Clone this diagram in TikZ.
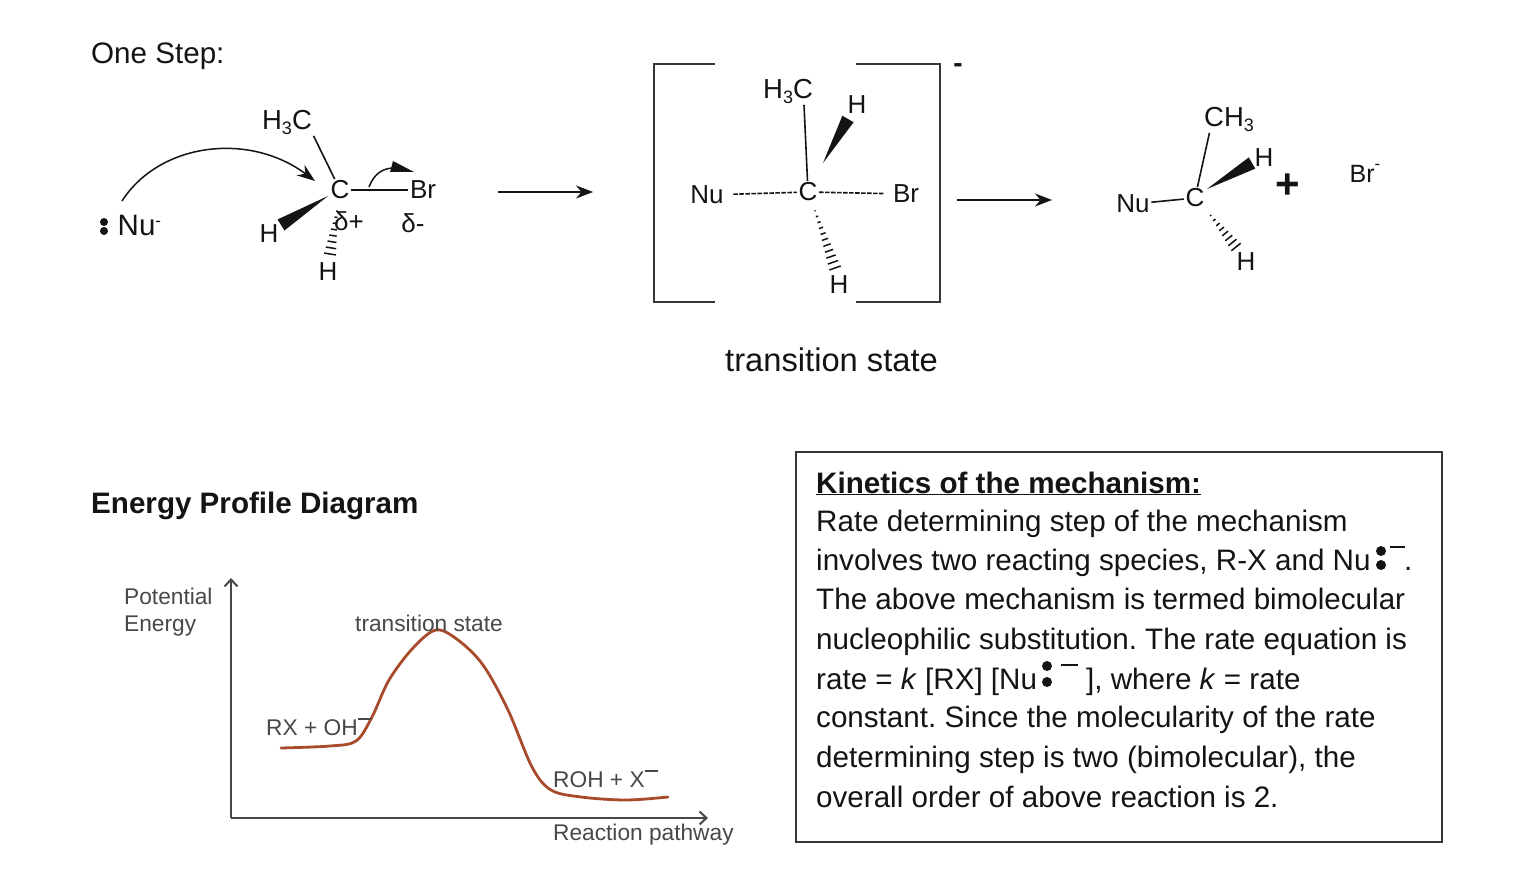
\documentclass[tikz,border=0pt]{standalone}
\usepackage{fontspec}
\setmainfont{Liberation Sans}
\usetikzlibrary{arrows.meta,calc}
\definecolor{ink}{HTML}{141414}
\definecolor{graph}{HTML}{484848}
\definecolor{curvec}{HTML}{A84B2C}
\newcommand{\fs}[1]{\fontsize{#1}{#1}\selectfont}
\newcommand{\subs}[1]{\raisebox{-5pt}{\fs{18}#1}}
\newcommand{\sups}[1]{\raisebox{9pt}{\fs{17}#1}}
% solid wedge from narrow end a to wide end b, half width w (pt)
\newcommand{\solidwedge}[3]{\fill[ink] (#1) -- ($(#2)!#3pt!90:(#1)$) -- ($(#2)!#3pt!-90:(#1)$) -- cycle;}
% hashed wedge from narrow end a to wide end b, half width w (pt), n strokes
\newcommand{\hashbond}[4]{\foreach \i in {1,...,#4}{%
  \pgfmathsetmacro{\t}{\i/#4}\pgfmathsetmacro{\hw}{#3*\t}%
  \coordinate (hp) at ($(#1)!\t!(#2)$);
  \draw[ink,line width=1.5pt] ($(hp)!\hw pt!90:(#1)$) -- ($(hp)!\hw pt!-90:(#1)$);}}
\tikzset{
  atom/.style={inner sep=1.5pt,text=ink,font=\fs{26}},
  groupl/.style={inner sep=1.5pt,text=ink,font=\fs{27.5}},
  bond/.style={draw=ink,line width=1.6pt},
  dbond/.style={draw=ink,line width=1.6pt,dash pattern=on 4.5pt off 1.5pt},
  rxn/.style={draw=ink,line width=1.7pt,-{Stealth[length=17pt,width=13pt]}},
  txt/.style={anchor=base west,inner sep=0pt,text=ink,font=\fs{29.6}},
  gtxt/.style={anchor=base west,inner sep=0pt,text=graph,font=\fs{22.7}},
  axisl/.style={draw=graph,line width=2pt},
  bracketl/.style={draw=ink!85,line width=2.2pt},
  lonepair/.style={fill=ink,circle,inner sep=0pt,minimum size=10pt}
}
\begin{document}
\begin{tikzpicture}[x=1pt,y=-1pt]
\frenchspacing
\useasboundingbox[fill=white] (0,0) rectangle (1528,890);
% --- headline
\node[txt] (onestep) at (91,64) {One Step:};
% --- reactant
\node[atom] (cA) at (340,190) {C};
\node[groupl] (chA) at (287,122) {H\subs{3}C};
\node[atom] (brA) at (423,190) {Br};
\node[atom] (hA1) at (269,234) {H};
\node[atom] (hA2) at (328,272) {H};
\node[atom,font=\fs{29.5},anchor=base west] (nuA) at (116,236) {Nu\sups{-}};
\node[lonepair,minimum size=8pt] (lpA1) at (104,222) {};
\node[lonepair,minimum size=8pt] (lpA2) at (104,231) {};
\node[atom] (dpA) at (349,221) {δ+};
\node[atom] (dmA) at (413,223) {δ-};
\draw[bond] (chA.south east) -- (cA);
\draw[bond] (cA) -- (brA);
\coordinate (wA1) at (328,196); \coordinate (wA2) at (281,225);
\solidwedge{wA1}{wA2}{6.5}
\coordinate (hsA1) at (338,205); \coordinate (hsA2) at (330,254);
\hashbond{hsA1}{hsA2}{6}{8}
\coordinate (attackS) at (122,201); \coordinate (attackE) at (315,181);
\draw[draw=ink,line width=1.5pt,-{Stealth[length=18pt,width=13pt]}] (attackS) .. controls (160,142) and (250,132) .. (attackE);
\coordinate (leaveS) at (369,187); \coordinate (leaveE) at (414,172);
\draw[draw=ink,line width=1.5pt] (leaveS) .. controls (374,174) and (382,169) .. (392,168);
\fill[ink] (leaveE) -- (393,161) -- (390,172) -- cycle;
% --- arrows
\coordinate (arr1S) at (498,192); \coordinate (arr1E) at (593,192);
\coordinate (arr2S) at (957,200); \coordinate (arr2E) at (1052,200);
\draw[rxn] (arr1S) -- (arr1E);
\draw[rxn] (arr2S) -- (arr2E);
% --- transition state
\draw[bracketl] (715,64) -- (654,64) -- (654,302) -- (715,302);
\draw[bracketl] (856,64) -- (940,64) -- (940,302) -- (856,302);
\node[atom,font=\bfseries\fs{28}] (tsminus) at (958,68) {-};
\node[atom] (cB) at (808,192) {C};
\node[groupl] (chB) at (788,91) {H\subs{3}C};
\node[atom] (hB1) at (857,105) {H};
\node[atom] (hB2) at (839,285) {H};
\node[atom] (nuB) at (707,195) {Nu};
\node[atom] (brB) at (906,194) {Br};
\draw[bond] ([xshift=16pt]chB.south) -- (cB);
\draw[dbond,shorten <=8pt] (nuB) -- (cB);
\draw[dbond,shorten >=8pt] (cB) -- (brB);
\coordinate (wB1) at (823,163); \coordinate (wB2) at (848,119);
\solidwedge{wB1}{wB2}{6.5}
\coordinate (hsB1) at (813,205); \coordinate (hsB2) at (835,268);
\hashbond{hsB1}{hsB2}{6}{11}
\node[txt,font=\fs{32.7}] (tslabel) at (725,371) {transition state};
% --- product
\node[atom] (cC) at (1195,198) {C};
\node[groupl] (chC) at (1229,119) {CH\subs{3}};
\node[atom] (nuC) at (1133,204) {Nu};
\node[atom] (hC1) at (1264,158) {H};
\node[atom] (hC2) at (1246,262) {H};
\node[atom,font=\bfseries\fs{42}] (plusC) at (1288,186) {+};
\node[atom,font=\fs{25},anchor=base west] (brC) at (1348,183) {Br\raisebox{13pt}{\fs{17}-}};
\draw[bond] ([xshift=7pt]chC.south west) -- (cC);
\draw[bond] (nuC) -- (cC);
\coordinate (wC1) at (1207,189); \coordinate (wC2) at (1252,163);
\solidwedge{wC1}{wC2}{6.5}
\coordinate (hsC1) at (1207,211); \coordinate (hsC2) at (1236,247);
\hashbond{hsC1}{hsC2}{6}{8}
% --- energy profile
\node[txt,font=\bfseries\fs{29.6}] (eptitle) at (91,513) {Energy Profile Diagram};
\node[gtxt] (pot) at (124,604) {Potential};
\node[gtxt] (ene) at (124,631) {Energy};
\coordinate (origin) at (231,818);
\coordinate (yend) at (231,578);
\coordinate (xend) at (708,818);
\draw[axisl,-{Straight Barb[length=7pt,width=13pt]}] (origin) -- (yend);
\draw[axisl,-{Straight Barb[length=7pt,width=13pt]}] (origin) -- (xend);
\draw[curvec,line width=2.8pt,line cap=round] plot[smooth,tension=.55] coordinates {(281,748) (330,746) (356,741) (372,717) (389,680) (413,648) (436,630) (458,640) (483,665) (508,710) (532,767) (551,790) (581,797) (626,800) (668,797)};
\node[gtxt] (tsg) at (355,631) {transition state};
\node[gtxt] (rx) at (266,735) {RX + OH\rule[15pt]{13pt}{1.8pt}};
\node[gtxt] (roh) at (553,787) {ROH + X\rule[15pt]{13pt}{1.8pt}};
\node[gtxt] (path) at (553,840) {Reaction pathway};
% --- kinetics box
\node[draw=ink!85,line width=2.2pt,minimum width=646pt,minimum height=390pt,inner sep=0pt,anchor=north west] (kbox) at (795,451) {};
\node[txt,font=\bfseries\fs{29.6}] (k0) at (816,493) {\underline{Kinetics of the mechanism:}};
\node[txt] (k1) at (816,531) {Rate determining step of the mechanism};
\node[txt] (k2) at (816,570) {involves two reacting species, R-X and Nu};
\node[lonepair] (lpK1) at (1381,551) {};
\node[lonepair] (lpK2) at (1381,565) {};
\node[txt] (k2b) at (1404,570) {.};
\node[txt] (k3) at (816,609) {The above mechanism is termed bimolecular};
\node[txt] (k4) at (816,649) {nucleophilic substitution. The rate equation is};
\node[txt] (k5) at (816,689) {rate = \textit{k} [RX] [Nu};
\node[lonepair] (lpK3) at (1047,666) {};
\node[lonepair] (lpK4) at (1047,682) {};
\node[txt] (k5b) at (1086,689) {], where \textit{k} = rate};
\node[txt] (k6) at (816,727) {constant. Since the molecularity of the rate};
\node[txt] (k7) at (816,767) {determining step is two (bimolecular), the};
\node[txt] (k8) at (816,807) {overall order of above reaction is 2.};
\draw[ink,line width=1.8pt] (1390,547) -- (1405,547);
\draw[ink,line width=1.8pt] (1061,665) -- (1078,665);
\end{tikzpicture}
\end{document}
